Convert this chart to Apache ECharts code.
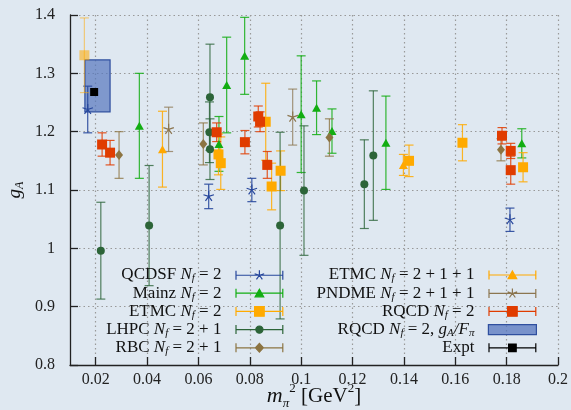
<!DOCTYPE html>
<html><head><meta charset="utf-8">
<script src="https://cdn.jsdelivr.net/npm/echarts@6/dist/echarts.min.js"></script>
<style>html,body{margin:0;padding:0;background:#dfe8f1}#c{width:571px;height:410px}</style>
</head><body><div id="c"></div>
<script>
// ---- data: [m_pi^2, g_A, error] ----
const xTickValues = [0.02, 0.04, 0.06, 0.08, 0.1, 0.12, 0.14, 0.16, 0.18, 0.2];
const qcdsf = [[0.0169, 1.238, 0.040], [0.0640, 1.089, 0.021], [0.0808, 1.100, 0.020], [0.1813, 1.049, 0.020]];
const mainz = [[0.0370, 1.210, 0.090], [0.0680, 1.179, 0.047], [0.0710, 1.280, 0.082], [0.0780, 1.330, 0.066],
  [0.1000, 1.230, 0.100], [0.1060, 1.241, 0.046], [0.1120, 1.201, 0.038], [0.1330, 1.181, 0.080], [0.1859, 1.180, 0.025]];
const etmc2Light = [[0.0156, 1.331, 0.064]];
const etmc2 = [[0.0678, 1.161, 0.035], [0.0687, 1.146, 0.045], [0.0862, 1.217, 0.066], [0.0885, 1.106, 0.040],
  [0.0920, 1.133, 0.034], [0.1420, 1.150, 0.027], [0.1628, 1.181, 0.031], [0.1864, 1.139, 0.025]];
const lhpc = [[0.0220, 0.996, 0.083], [0.0408, 1.039, 0.103], [0.0645, 1.259, 0.091], [0.0643, 1.199, 0.052],
  [0.0645, 1.170, 0.052], [0.0918, 1.039, 0.160], [0.1011, 1.099, 0.111], [0.1246, 1.110, 0.076], [0.1281, 1.159, 0.111]];
const rbc = [[0.0291, 1.160, 0.040], [0.0619, 1.179, 0.036], [0.1110, 1.190, 0.032], [0.1778, 1.169, 0.019]];
const etmc211 = [[0.0460, 1.170, 0.065], [0.1398, 1.143, 0.018]];
const pndme = [[0.0484, 1.204, 0.038], [0.0967, 1.225, 0.048]];
const rqcd = [[0.0225, 1.178, 0.020], [0.0256, 1.164, 0.021], [0.0671, 1.199, 0.016], [0.0781, 1.182, 0.020],
  [0.0833, 1.226, 0.018], [0.0840, 1.217, 0.017], [0.0868, 1.143, 0.023], [0.1782, 1.193, 0.014],
  [0.1816, 1.167, 0.013], [0.1816, 1.134, 0.024]];
// band: [xMin, xMax, yMin, yMax]
const rqcdBand = [[0.0158, 0.0256, 1.234, 1.323]];
const expt = [[0.0194, 1.268, 0]];

const legendLeftNames = ['QCDSF', 'Mainz', 'ETMC2', 'LHPC', 'RBC'];
const legendRightNames = ['ETMC211', 'PNDME', 'RQCD', 'RQCDband', 'Expt'];
const legendLabels = {
  QCDSF: 'QCDSF {i|N}{sub|f} = 2',
  Mainz: 'Mainz {i|N}{sub|f} = 2',
  ETMC2: 'ETMC {i|N}{sub|f} = 2',
  LHPC: 'LHPC {i|N}{sub|f} = 2 + 1',
  RBC: 'RBC {i|N}{sub|f} = 2 + 1',
  ETMC211: 'ETMC {i|N}{sub|f} = 2 + 1 + 1',
  PNDME: 'PNDME {i|N}{sub|f} = 2 + 1 + 1',
  RQCD: 'RQCD {i|N}{sub|f} = 2',
  RQCDband: 'RQCD {i|N}{sub|f} = 2, {i|g}{sub|A}{i|/F}{sub|π}',
  Expt: 'Expt'
};

// ---- styles ----
const C = {
  QCDSF: '#27479c', Mainz: '#12ad12', ETMC2: '#ffaa00', LHPC: '#2c6438', RBC: '#8c7442',
  ETMC211: '#ffa800', PNDME: '#8c7650', RQCD: '#e03c00', Expt: '#000000'
};
const FONT = 'Liberation Serif';
const starPath = 'path://M-10 -10M10 10M0 0L0 -10M0 0L9.51 -3.09M0 0L5.88 8.09M0 0L-5.88 8.09M0 0L-9.51 -3.09';
const bar = 'M0 5L48 5M0.6 0.5L0.6 9.5M47.4 0.5L47.4 9.5';
const icons = {
  star: 'path://' + bar + 'M24 5L24 0M24 5L28.76 3.45M24 5L26.94 9.05M24 5L21.06 9.05M24 5L19.24 3.45',
  tri: 'path://' + bar + 'M24 1L28.3 8.6L19.7 8.6Z',
  sq: 'path://' + bar + 'M19.2 0.2L28.8 0.2L28.8 9.8L19.2 9.8Z',
  circ: 'path://' + bar + 'M27.6 5A3.6 3.6 0 1 1 20.4 5A3.6 3.6 0 1 1 27.6 5Z',
  dia: 'path://' + bar + 'M24 0.6L28 5L24 9.4L20 5Z',
  sqs: 'path://' + bar + 'M20.2 1.2L27.8 1.2L27.8 8.8L20.2 8.8Z'
};

function markers(name, data, symbol, size, color, opts) {
  opts = opts || {};
  return {
    type: 'scatter', name: name, z: 3,
    data: data.map(d => [d[0], d[1]]),
    symbol: symbol, symbolSize: size, silent: true,
    itemStyle: Object.assign({ color: color, opacity: opts.opacity || 1 }, opts.itemStyle || {})
  };
}
function errorBars(name, data, color, opacity) {
  return {
    type: 'custom', name: name, z: 2, silent: true,
    data: data, encode: { x: 0, y: 1 },
    renderItem: function (params, api) {
      const x = api.value(0), y = api.value(1), e = api.value(2);
      const t = api.coord([x, y + e]), b = api.coord([x, y - e]);
      const hw = 4.5;
      const st = { stroke: color, lineWidth: 1.2, opacity: opacity };
      return { type: 'group', children: [
        { type: 'line', shape: { x1: t[0], y1: t[1], x2: b[0], y2: b[1] }, style: st },
        { type: 'line', shape: { x1: t[0] - hw, y1: t[1], x2: t[0] + hw, y2: t[1] }, style: st },
        { type: 'line', shape: { x1: b[0] - hw, y1: b[1], x2: b[0] + hw, y2: b[1] }, style: st }
      ] };
    }
  };
}

const series = [
  markers('QCDSF', qcdsf, starPath, 11, 'rgba(0,0,0,0)', { itemStyle: { borderColor: C.QCDSF, borderWidth: 1.2 } }),
  markers('Mainz', mainz, 'triangle', [9, 8], C.Mainz),
  markers('ETMC2', etmc2, 'rect', 10, C.ETMC2),
  markers('ETMC2', etmc2Light, 'rect', 10, C.ETMC2, { opacity: 0.55 }),
  markers('LHPC', lhpc, 'circle', 8, C.LHPC),
  markers('RBC', rbc, 'diamond', [8, 10], C.RBC),
  markers('ETMC211', etmc211, 'triangle', [9, 8], C.ETMC211),
  markers('PNDME', pndme, starPath, 11, 'rgba(0,0,0,0)', { itemStyle: { borderColor: C.PNDME, borderWidth: 1.2 } }),
  markers('RQCD', rqcd, 'rect', 10, C.RQCD),
  {
    type: 'custom', name: 'RQCDband', z: 1, silent: true,
    data: rqcdBand,
    renderItem: function (params, api) {
      const p0 = api.coord([api.value(0), api.value(3)]);
      const p1 = api.coord([api.value(1), api.value(2)]);
      return { type: 'rect', shape: { x: p0[0], y: p0[1], width: p1[0] - p0[0], height: p1[1] - p0[1] },
        style: { fill: 'rgba(86,118,190,0.7)', stroke: '#2f4f9f', lineWidth: 1.2 } };
    }
  },
  errorBars('QCDSF', qcdsf, C.QCDSF, 0.9),
  errorBars('Mainz', mainz, C.Mainz, 0.85),
  errorBars('ETMC2', etmc2, C.ETMC2, 0.85),
  errorBars('ETMC2', etmc2Light, C.ETMC2, 0.5),
  errorBars('LHPC', lhpc, C.LHPC, 0.8),
  errorBars('RBC', rbc, C.RBC, 0.8),
  errorBars('ETMC211', etmc211, C.ETMC211, 0.85),
  errorBars('PNDME', pndme, C.PNDME, 0.75),
  errorBars('RQCD', rqcd, C.RQCD, 0.85),
  Object.assign(markers('Expt', expt, 'rect', 8, C.Expt), { z: 4 })
];

const legendIcon = {
  QCDSF: icons.star, Mainz: icons.tri, ETMC2: icons.sq, LHPC: icons.circ, RBC: icons.dia,
  ETMC211: icons.tri, PNDME: icons.star, RQCD: icons.sq, Expt: icons.sqs
};
function legendItem(n) {
  if (n === 'RQCDband') {
    return { name: n, icon: 'rect', itemStyle: { color: 'rgba(86,118,190,0.75)', borderColor: '#2f4f9f', borderWidth: 1.2 } };
  }
  return { name: n, icon: legendIcon[n], itemStyle: { color: C[n], borderColor: C[n], borderWidth: 1.2, opacity: 1 } };
}
const richLegend = {
  i: { fontFamily: FONT, fontStyle: 'italic', fontSize: 17, color: '#111', lineHeight: 18 },
  sub: { fontFamily: FONT, fontStyle: 'italic', fontSize: 11, color: '#111', lineHeight: 18, verticalAlign: 'bottom', padding: [4, 0, 0, 0] }
};
function makeLegend(names, right) {
  return {
    orient: 'vertical', align: 'right', right: right, top: 266, padding: 0,
    itemWidth: 48, itemHeight: 10, itemGap: 0.2, selectedMode: false,
    data: names.map(legendItem),
    formatter: n => legendLabels[n],
    textStyle: { fontFamily: FONT, fontSize: 17, color: '#111', lineHeight: 18, padding: [0, 9, 0, 0], rich: richLegend }
  };
}

const chart = echarts.init(document.getElementById('c'), null, { renderer: 'canvas' });
chart.setOption({
  backgroundColor: '#dfe8f1',
  animation: false,
  grid: { left: 70, right: 13, top: 15, bottom: 45, outerBoundsMode: 'none', containLabel: false },
  legend: [makeLegend(legendLeftNames, 287), makeLegend(legendRightNames, 34)],
  xAxis: {
    type: 'value', min: 0.01, max: 0.2,
    name: '{i|m}{sub|π}{sup|2} [GeV{sup2|2}]',
    nameLocation: 'middle', nameGap: 17, nameMoveOverlap: false,
    nameTextStyle: {
      fontFamily: FONT, fontSize: 21, color: '#111', lineHeight: 28,
      rich: {
        i: { fontFamily: FONT, fontStyle: 'italic', fontSize: 22, color: '#111' },
        sub: { fontFamily: FONT, fontStyle: 'italic', fontSize: 13, color: '#111', verticalAlign: 'bottom', padding: [10, 0, 0, 0] },
        sup: { fontFamily: FONT, fontSize: 13, color: '#111', verticalAlign: 'top', padding: [0, 0, 10, 0] },
        sup2: { fontFamily: FONT, fontSize: 13, color: '#111', verticalAlign: 'top', padding: [0, 0, 10, 0] }
      }
    },
    axisLine: { show: true, onZero: false, lineStyle: { color: '#222', width: 1.3 } },
    axisTick: { show: true, inside: true, length: 8, customValues: xTickValues, lineStyle: { color: '#222', width: 1.3 } },
    axisLabel: { customValues: xTickValues, margin: 7, fontFamily: FONT, fontSize: 16, color: '#222' },
    splitLine: { show: true, lineStyle: { color: '#999', width: 1.2, type: [1.5, 3] } }
  },
  yAxis: {
    type: 'value', min: 0.8, max: 1.4, interval: 0.1,
    name: '{i|g}{sub|A}', nameLocation: 'middle', nameRotate: 90, nameGap: 44, nameMoveOverlap: false,
    nameTextStyle: {
      fontFamily: FONT, fontSize: 18, color: '#111', lineHeight: 22,
      rich: {
        i: { fontFamily: FONT, fontStyle: 'italic', fontSize: 19, color: '#111' },
        sub: { fontFamily: FONT, fontStyle: 'italic', fontSize: 12, color: '#111', verticalAlign: 'bottom', padding: [7, 0, 0, 0] }
      }
    },
    axisLine: { show: true, onZero: false, lineStyle: { color: '#222', width: 1.3 } },
    axisTick: { show: true, inside: true, length: 8, lineStyle: { color: '#222', width: 1.3 } },
    axisLabel: { margin: 15, fontFamily: FONT, fontSize: 16, color: '#222' },
    splitLine: { show: true, lineStyle: { color: '#999', width: 1.2, type: [1.5, 3] } }
  },
  series: series
});
</script>
</body></html>
